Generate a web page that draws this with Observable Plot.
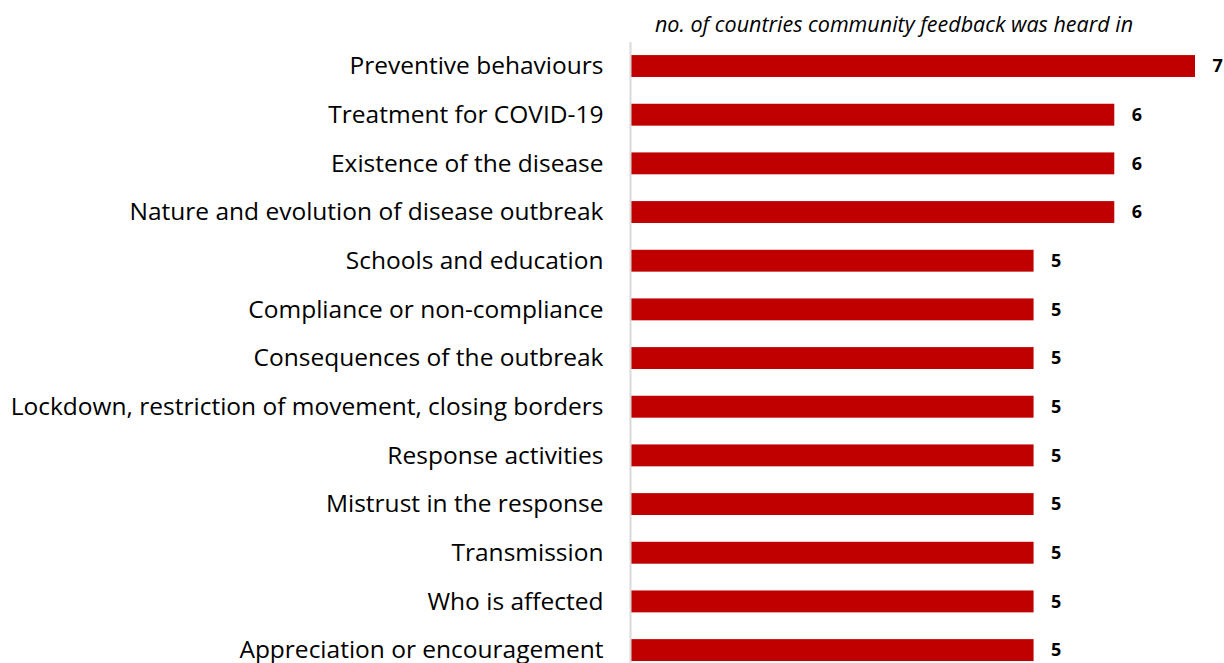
<!DOCTYPE html>
<html>
<head>
<meta charset="utf-8">
<script src="https://cdn.jsdelivr.net/npm/d3@7"></script>
<script src="https://cdn.jsdelivr.net/npm/@observablehq/plot@0.6"></script>
<style>
  html, body { margin: 0; padding: 0; background: #fff; overflow: hidden; }
  #chart svg { display: block; }
</style>
</head>
<body>
<div id="chart"></div>
<script>
const categories = [
  "Preventive behaviours",
  "Treatment for COVID-19",
  "Existence of the disease",
  "Nature and evolution of disease outbreak",
  "Schools and education",
  "Compliance or non-compliance",
  "Consequences of the outbreak",
  "Lockdown, restriction of movement, closing borders",
  "Response activities",
  "Mistrust in the response",
  "Transmission",
  "Who is affected",
  "Appreciation or encouragement"
];
const values = [7, 6, 6, 6, 5, 5, 5, 5, 5, 5, 5, 5, 5];
const axisTitle = "no. of countries community feedback was heard in";

const data = categories.map((c, i) => ({category: c, value: values[i]}));

const chart = Plot.plot({
  width: 1224,
  height: 663,
  marginTop: 42,
  marginLeft: 630,
  marginRight: 29,
  marginBottom: 0,
  style: {fontFamily: "'Open Sans', sans-serif", background: "#fff", overflow: "hidden"},
  x: {domain: [0, 7], axis: null},
  y: {domain: categories, range: [28.3, 687.8], padding: 0.55, round: false, label: null},
  marks: [
    Plot.axisY({tickSize: 0, tickPadding: 27, fontSize: 24.5, fill: "#000", label: null}),
    Plot.barX(data, {x: "value", y: "category", fill: "#C00000"}),
    Plot.ruleX([0], {stroke: "#d9d9d9", strokeWidth: 2}),
    Plot.text(data, {x: "value", y: "category", text: d => String(d.value), textAnchor: "start", dx: 17, fontSize: 18, fontWeight: "bold", fill: "#000"}),
    Plot.text([axisTitle], {frameAnchor: "top", lineAnchor: "middle", dx: -19, dy: -17, fontSize: 21.5, fontStyle: "italic", fill: "#000"})
  ]
});
document.getElementById("chart").appendChild(chart);
</script>
</body>
</html>
